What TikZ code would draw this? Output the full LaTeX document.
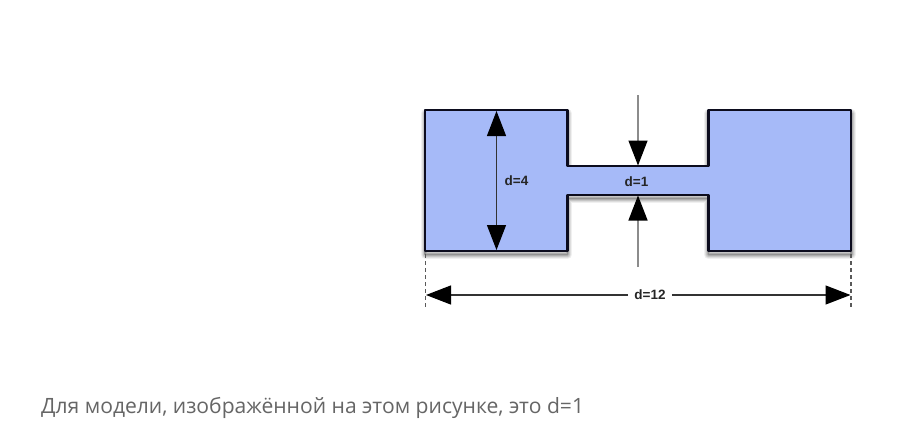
\documentclass[tikz,border=0pt]{standalone}
\usepackage{fontspec}
\setmainfont{Liberation Sans}
\newfontfamily\captionfont{Open Sans}
\usetikzlibrary{arrows.meta}
\definecolor{fillblue}{HTML}{A6BAF8}
\definecolor{edge}{HTML}{0C0C1E}
\definecolor{capt}{HTML}{666666}
\tikzset{
  px/.style={x=1pt,y=-1pt},
  bigtip/.style={-{Triangle[length=25pt,width=19pt,color=black]}},
  dimgray/.style={draw=black!45,line width=1.4pt,bigtip},
  dimdark/.style={draw=black!80,line width=1.2pt},
  lbl/.style={font=\bfseries\fontsize{13.5}{15}\selectfont,text=black!85,inner sep=1pt},
  guide/.style={draw=black!65,line width=1.3pt,dash pattern=on 4pt off 3pt},
  capnode/.style={font=\captionfont\fontsize{21.08}{25}\selectfont,text=capt,anchor=base west,inner sep=0pt},
}
\newcommand{\dumbbell}{(425,110) -- (567.5,110) -- (567.5,166) -- (708.5,166) -- (708.5,110) -- (851,110) -- (851,251) -- (708.5,251) -- (708.5,195) -- (567.5,195) -- (567.5,251) -- (425,251) -- cycle}
\begin{document}
\begin{tikzpicture}[px]
\useasboundingbox (0,0) rectangle (901,436);
\fill[white] (0,0) rectangle (901,436);
% soft drop shadow
\foreach \w/\o in {9/.06,7/.08,5/.10,3/.12,1.5/.15}{
  \draw[black,opacity=\o,line width=\w pt,line join=round,yshift=-3.5pt] \dumbbell;
}
\path[fill=fillblue,draw=edge,line width=2.2pt,line join=round] \dumbbell;
% anchors
\coordinate (t4) at (496.5,111);
\coordinate (b4) at (496.5,250);
\coordinate (ta) at (638,95);
\coordinate (tb) at (638,165.5);
\coordinate (ba) at (638,267);
\coordinate (bb) at (638,195.5);
\coordinate (l12) at (426,295);
\coordinate (r12) at (850.5,295);
\coordinate (gl1) at (425.5,254);
\coordinate (gl2) at (425.5,309);
\coordinate (gr1) at (851,254);
\coordinate (gr2) at (851,309);
% labels
\node[lbl] (d4) at (516.5,181) {d=4};
\node[lbl] (d1) at (636.5,181.5) {d=1};
\node[lbl,inner xsep=6pt,inner ysep=1pt] (d12) at (650,295) {d=12};
% dimensions
\draw[{Triangle[length=25pt,width=19pt,color=black]}-{Triangle[length=25pt,width=19pt,color=black]},draw=edge!80!fillblue,dimdark] (t4) -- (b4);
\draw[dimgray] (ta) -- (tb);
\draw[dimgray] (ba) -- (bb);
\draw[bigtip,dimdark] (d12.west) -- (l12);
\draw[bigtip,dimdark] (d12.east) -- (r12);
\draw[guide] (gl1) -- (gl2);
\draw[guide] (gr1) -- (gr2);
% caption
\node[capnode] (cap) at (41,413) {Для модели, изображённой на этом рисунке, это d=1};
\end{tikzpicture}
\end{document}
